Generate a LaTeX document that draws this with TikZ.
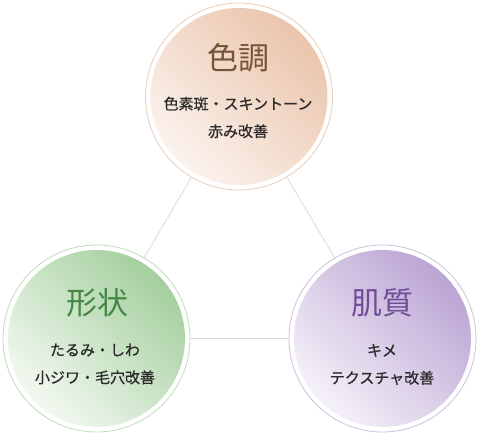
\documentclass[tikz,border=0pt]{standalone}
\usepackage{fontspec}
\newfontfamily\jpfont{Noto Sans CJK JP}
\newfontfamily\jpbody[FakeBold=0.8]{Noto Sans CJK JP}
\usetikzlibrary{positioning}

\definecolor{toneDark}{HTML}{EAC5AC}
\definecolor{toneLight}{HTML}{FCF3EE}
\definecolor{toneRing}{HTML}{E8CDB9}
\definecolor{toneText}{HTML}{765437}
\definecolor{shapeDark}{HTML}{A4CF9E}
\definecolor{shapeLight}{HTML}{F3F9F1}
\definecolor{shapeRing}{HTML}{BEDDB8}
\definecolor{shapeText}{HTML}{468744}
\definecolor{skinDark}{HTML}{BBA5D3}
\definecolor{skinLight}{HTML}{F5F1F9}
\definecolor{skinRing}{HTML}{CCBFDD}
\definecolor{skinText}{HTML}{714C98}
\definecolor{bodygrey}{HTML}{2B2B2B}
\definecolor{linkgrey}{HTML}{DADADA}

\tikzset{
  bubble/.style={circle, draw=#1, line width=0.8pt, fill=white, minimum size=187pt, inner sep=0pt},
  title/.style={font=\jpfont\fontsize{31}{31}\selectfont, text=#1},
  body/.style={font=\jpbody\fontsize{15}{27.5}\selectfont, text=bodygrey, align=center},
  link/.style={draw=linkgrey, line width=0.8pt},
}

\begin{document}
\begin{tikzpicture}[x=1pt, y=-1pt]
        \useasboundingbox (0, 0) rectangle (481, 436);

        % three circles
        \node[bubble=toneRing] (tone) at (239, 96.5) {};
        \shade[top color=toneDark, bottom color=toneLight, shading angle=-45] (tone.center) circle (88.5);

        \node[bubble=shapeRing] (shape) at (96.5, 338.5) {};
        \shade[top color=shapeDark, bottom color=shapeLight, shading angle=-45] (shape.center) circle (88.5);

        \node[bubble=skinRing] (skin) at (382.5, 338.5) {};
        \shade[top color=skinDark, bottom color=skinLight, shading angle=-45] (skin.center) circle (88.5);

        \draw[link] (tone) -- (shape);
        \draw[link] (tone) -- (skin);
        \draw[link] (shape) -- (skin);

        % texts
        \node[title=toneText] (toneT) at (238.5, 57.5) {色調};
        \node[body] (toneB) at (238, 117.5) {色素斑・スキントーン\\赤み改善};

        \node[title=shapeText] (shapeT) at (97, 302.7) {形状};
        \node[body] (shapeB) at (95, 364) {たるみ・しわ\\小ジワ・毛穴改善};

        \node[title=skinText] (skinT) at (382, 303) {肌質};
        \node[body] (skinB) at (382, 364.5) {キメ\\テクスチャ改善};

    \end{tikzpicture}
\end{document}
